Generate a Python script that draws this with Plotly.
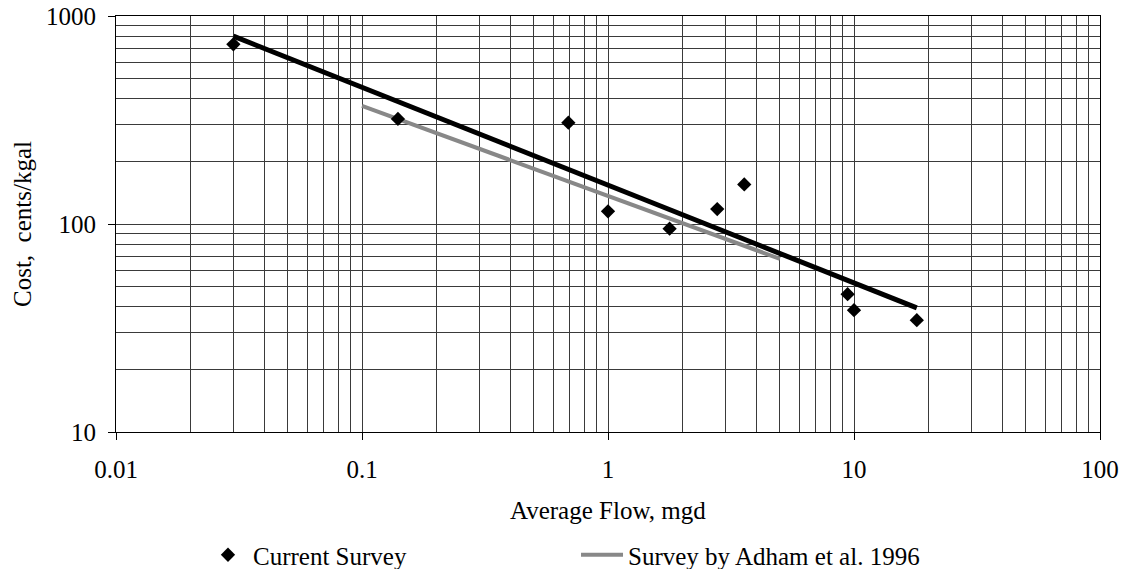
import plotly.graph_objects as go

# ---- data ----
survey_flow = [0.03, 0.14, 0.69, 1.0, 1.78, 2.78, 3.58, 9.42, 10.0, 18.0]
survey_cost = [731, 320, 307, 115, 95, 118, 155, 46, 38.5, 34.5]

trend_flow = [0.03, 18.0]
trend_cost = [800, 39.5]

adham_flow = [0.1, 5.0]
adham_cost = [370, 68]

x_ticks = [0.01, 0.1, 1, 10, 100]
x_ticktext = ["0.01", "0.1", "1", "10", "100"]
y_ticks = [10, 100, 1000]
y_ticktext = ["10", "100", "1000"]

x_minor = [m * d for d in [0.01, 0.1, 1, 10] for m in range(2, 10)]
y_minor = [m * d for d in [10, 100] for m in range(2, 10)]

FONT = "Times New Roman, Liberation Serif, serif"
FS = 25
GRID = "#3a3a3a"

fig = go.Figure()

fig.add_trace(go.Scatter(
    x=trend_flow, y=trend_cost, mode="lines",
    line=dict(color="black", width=5), showlegend=False, hoverinfo="skip"))

fig.add_trace(go.Scatter(
    x=adham_flow, y=adham_cost, mode="lines",
    line=dict(color="#888888", width=4),
    name="Survey by Adham et al. 1996", legend="legend2"))

fig.add_trace(go.Scatter(
    x=survey_flow, y=survey_cost, mode="markers",
    marker=dict(symbol="diamond", size=11, color="black"),
    name="Current Survey", legend="legend"))

axis_common = dict(
    type="log", showline=True, linecolor="black", linewidth=1, mirror=True,
    ticks="outside", ticklen=7, tickcolor="black", tickwidth=1,
    showgrid=True, gridcolor=GRID, gridwidth=1, zeroline=False,
    automargin=False, ticklabeloverflow="allow",
    tickfont=dict(family=FONT, size=FS, color="black"),
)

fig.update_xaxes(
    range=[-2, 2], tickmode="array", tickvals=x_ticks, ticktext=x_ticktext,
    minor=dict(tickmode="array", tickvals=x_minor, showgrid=True,
               gridcolor=GRID, gridwidth=1, ticks=""),
    ticklabelstandoff=8,
    **axis_common)

fig.update_yaxes(
    range=[1, 3], tickmode="array", tickvals=y_ticks, ticktext=y_ticktext,
    minor=dict(tickmode="array", tickvals=y_minor, showgrid=True,
               gridcolor=GRID, gridwidth=1, ticks=""),
    ticklabelstandoff=7,
    **axis_common)

fig.update_layout(
    width=1124, height=569,
    margin=dict(l=116, r=24, t=16, b=137, autoexpand=False),
    paper_bgcolor="white", plot_bgcolor="white",
    font=dict(family=FONT, size=FS, color="black"),
    legend=dict(orientation="h", x=0.0884, y=-0.2957, xanchor="left",
                yanchor="middle", font=dict(family=FONT, size=FS),
                bgcolor="rgba(0,0,0,0)", itemwidth=40),
    legend2=dict(orientation="h", x=0.4675, y=-0.2957, xanchor="left",
                 yanchor="middle", font=dict(family=FONT, size=FS),
                 bgcolor="rgba(0,0,0,0)", itemwidth=42),
    annotations=[
        dict(text="Average Flow, mgd", xref="paper", yref="paper",
             x=0.5, y=-0.1875, xanchor="center", yanchor="middle",
             showarrow=False, font=dict(family=FONT, size=FS)),
        dict(text="Cost,\u00a0 cents/kgal", xref="paper", yref="paper",
             x=-0.0955, y=0.5, xanchor="center", yanchor="middle",
             textangle=-90, showarrow=False, font=dict(family=FONT, size=FS)),
    ],
)

# remove the default 8px page margin so the figure fills the window exactly
fig.write_html("out.html", config={"displayModeBar": False},
               post_script="document.body.style.margin='0px';")
